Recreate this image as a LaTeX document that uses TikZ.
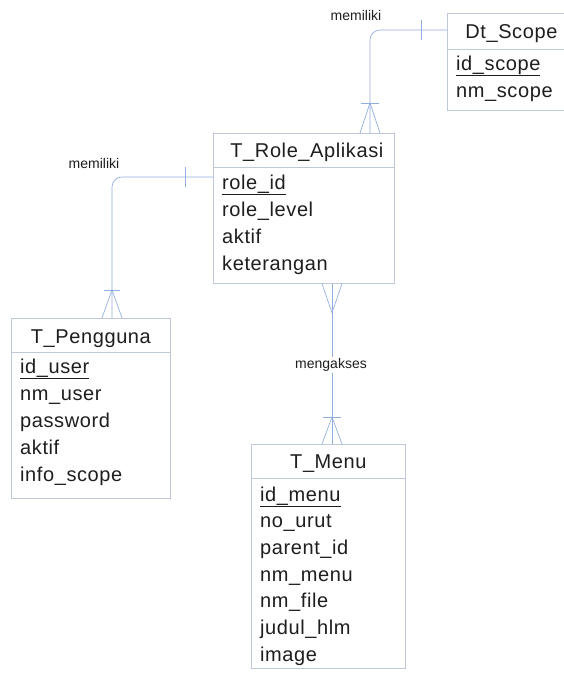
\documentclass[tikz,border=0pt]{standalone}
\usepackage{fontspec}
\setmainfont{Liberation Sans}
\newfontfamily\fieldfont[LetterSpace=3]{Liberation Sans}
\usetikzlibrary{calc}
\definecolor{boxedge}{RGB}{190,200,216}
\definecolor{linkblue}{RGB}{145,175,222}
\definecolor{inktext}{RGB}{30,30,30}
\tikzset{
  tbl/.style={draw=boxedge, line width=0.8pt, rectangle, inner sep=0pt, anchor=north west},
  sepline/.style={draw=boxedge, line width=0.8pt},
  title/.style={anchor=base, inner sep=0pt, text=inktext, font=\fieldfont\fontsize{20}{24}\selectfont},
  field/.style={anchor=base west, inner sep=0pt, text=inktext, font=\fieldfont\fontsize{20}{24}\selectfont},
  rel/.style={draw=linkblue, line width=0.65pt, rounded corners=10pt},
  tickline/.style={draw=linkblue, line width=0.65pt},
  rellabel/.style={inner sep=1.5pt, fill=white, text=inktext, font=\fontsize{14}{16}\selectfont},
}
\begin{document}
\begin{tikzpicture}[x=1pt, y=-1pt]
\useasboundingbox[fill=white] (0,0) rectangle (563,678);

% ---- tables ----
\node[tbl, minimum width=128pt, minimum height=97pt] (scope) at (447,13) {};
\node[tbl, minimum width=181pt, minimum height=150pt] (role) at (213,133) {};
\node[tbl, minimum width=159pt, minimum height=180pt] (user) at (11,318) {};
\node[tbl, minimum width=154pt, minimum height=224pt] (menu) at (251,444) {};

% header separators
\draw[sepline] ($(scope.north west)+(0,36)$) -- ($(scope.north east)+(0,36)$);
\draw[sepline] ($(role.north west)+(0,34)$) -- ($(role.north east)+(0,34)$);
\draw[sepline] ($(user.north west)+(0,34)$) -- ($(user.north east)+(0,34)$);
\draw[sepline] ($(menu.north west)+(0,34)$) -- ($(menu.north east)+(0,34)$);

% Dt_Scope
\node[title] (scope-t) at ($(scope.north)+(0,25)$) {Dt\_Scope};
\node[field] (scope-f1) at ($(scope.north west)+(9,57)$) {\underline{id\_scope}};
\node[field] (scope-f2) at ($(scope.north west)+(9,84)$) {nm\_scope};

% T_Role_Aplikasi
\node[title] (role-t) at ($(role.north)+(3,24)$) {T\_Role\_Aplikasi};
\node[field] (role-f1) at ($(role.north west)+(9,56)$) {\underline{role\_id}};
\node[field] (role-f2) at ($(role.north west)+(9,83)$) {role\_level};
\node[field] (role-f3) at ($(role.north west)+(9,110)$) {aktif};
\node[field] (role-f4) at ($(role.north west)+(9,137)$) {keterangan};

% T_Pengguna
\node[title] (user-t) at ($(user.north)+(0,25)$) {T\_Pengguna};
\node[field] (user-f1) at ($(user.north west)+(9,55)$) {\underline{id\_user}};
\node[field] (user-f2) at ($(user.north west)+(9,82)$) {nm\_user};
\node[field] (user-f3) at ($(user.north west)+(9,109)$) {password};
\node[field] (user-f4) at ($(user.north west)+(9,136)$) {aktif};
\node[field] (user-f5) at ($(user.north west)+(9,163)$) {info\_scope};

% T_Menu
\node[title] (menu-t) at ($(menu.north)+(0,24)$) {T\_Menu};
\node[field] (menu-f1) at ($(menu.north west)+(9,57)$) {\underline{id\_menu}};
\node[field] (menu-f2) at ($(menu.north west)+(9,83.7)$) {no\_urut};
\node[field] (menu-f3) at ($(menu.north west)+(9,110.4)$) {parent\_id};
\node[field] (menu-f4) at ($(menu.north west)+(9,137.1)$) {nm\_menu};
\node[field] (menu-f5) at ($(menu.north west)+(9,163.8)$) {nm\_file};
\node[field] (menu-f6) at ($(menu.north west)+(9,190.5)$) {judul\_hlm};
\node[field] (menu-f7) at ($(menu.north west)+(9,217.2)$) {image};

% ---- relation: Dt_Scope (one) -- T_Role_Aplikasi (many) ----
\draw[rel] ($(scope.north west)+(0,17)$) -| ($(role.north west)+(157,0)$);
\draw[tickline] ($(scope.north west)+(-26,7)$) -- ($(scope.north west)+(-26,27)$);
\draw[tickline] ($(role.north west)+(148,-30)$) -- ($(role.north west)+(166,-30)$);
\draw[tickline] ($(role.north west)+(147,0)$) -- ($(role.north west)+(157,-30)$) -- ($(role.north west)+(167,0)$);
\node[rellabel] (lbl-scope) at (356,15) {memiliki};

% ---- relation: T_Role_Aplikasi (one) -- T_Pengguna (many) ----
\draw[rel] ($(role.north west)+(0,44)$) -| ($(user.north west)+(101,0)$);
\draw[tickline] ($(role.north west)+(-28,34)$) -- ($(role.north west)+(-28,54)$);
\draw[tickline] ($(user.north west)+(93,-28)$) -- ($(user.north west)+(109,-28)$);
\draw[tickline] ($(user.north west)+(91,0)$) -- ($(user.north west)+(101,-28)$) -- ($(user.north west)+(111,0)$);
\node[rellabel] (lbl-user) at (94,163) {memiliki};

% ---- relation: T_Role_Aplikasi (many) -- T_Menu (many) ----
\draw[rel] ($(role.south west)+(119,0)$) -- ($(menu.north west)+(81,0)$);
\draw[tickline] ($(role.south west)+(109,0)$) -- ($(role.south west)+(119,29)$) -- ($(role.south west)+(129,0)$);
\draw[tickline] ($(menu.north west)+(72,-27)$) -- ($(menu.north west)+(90,-27)$);
\draw[tickline] ($(menu.north west)+(71,0)$) -- ($(menu.north west)+(81,-27)$) -- ($(menu.north west)+(91,0)$);
\node[rellabel] (lbl-menu) at (331,365) {mengakses};
\end{tikzpicture}
\end{document}
